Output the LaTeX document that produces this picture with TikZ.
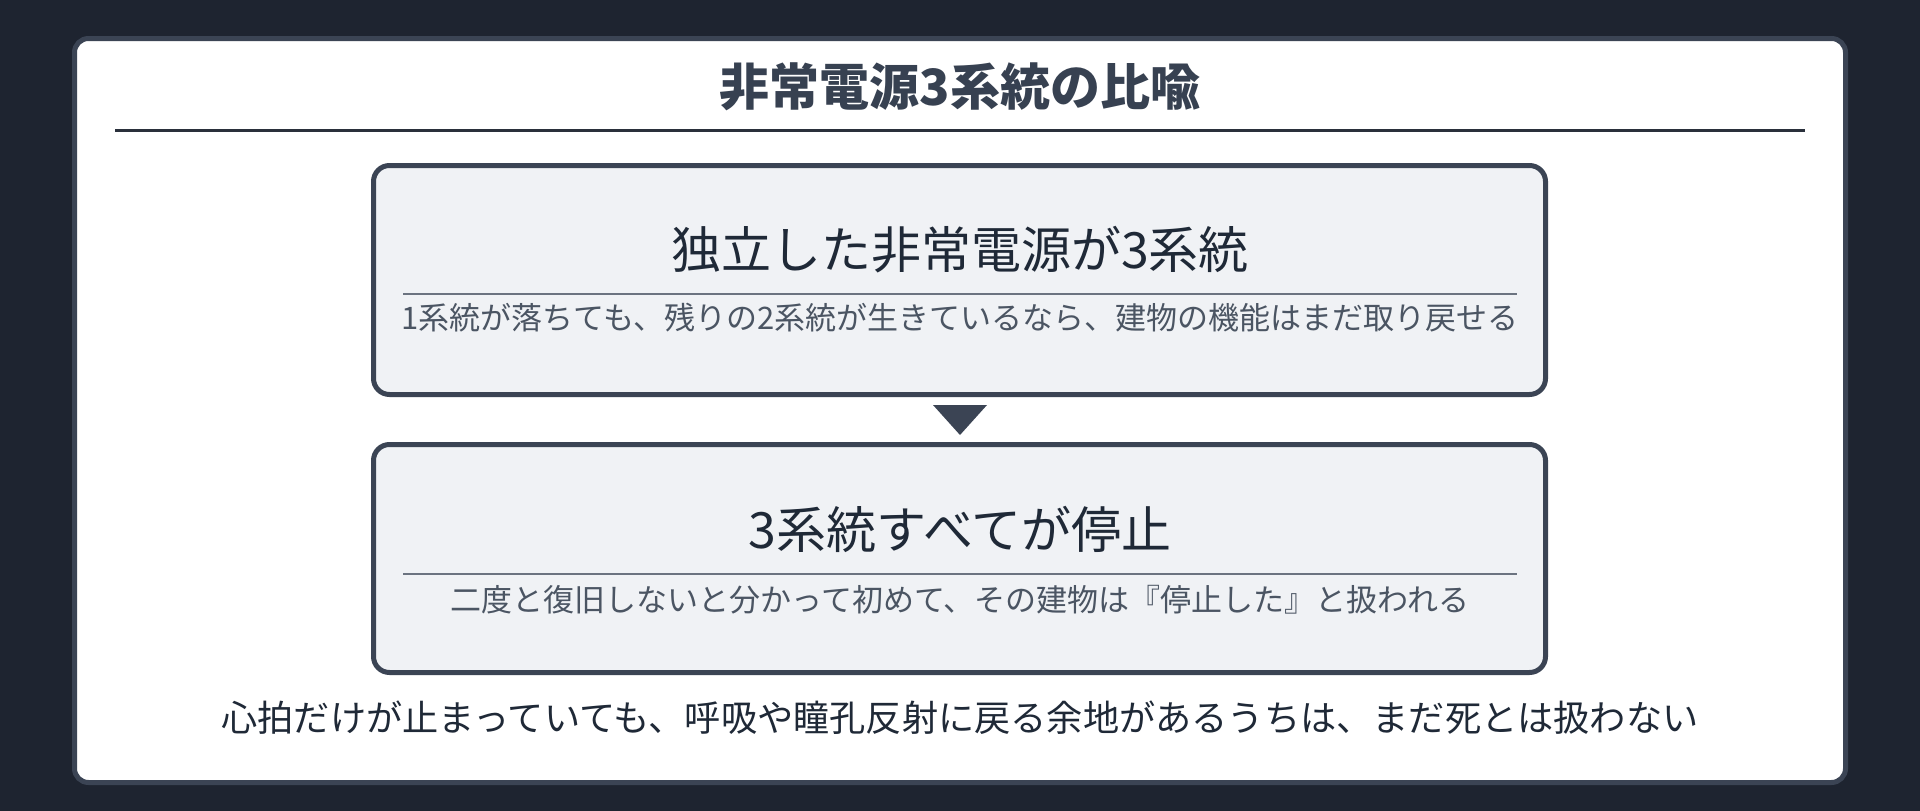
\documentclass[tikz,border=0pt]{standalone}
\usepackage{fontspec}
\setmainfont{Noto Sans CJK JP}
\definecolor{bgdark}{HTML}{1E2430}
\definecolor{frame}{HTML}{3B4454}
\definecolor{titletxt}{HTML}{374151}
\definecolor{headtxt}{HTML}{1F2937}
\definecolor{subtxt}{HTML}{4B5563}
\definecolor{boxfill}{HTML}{F0F2F5}
\definecolor{rulegray}{HTML}{6B7380}
\definecolor{titlerule}{HTML}{2A303B}
\tikzset{
  panelbox/.style={draw=frame, line width=5pt, fill=white, rounded corners=14pt},
  stagebox/.style={draw=frame, line width=5pt, fill=boxfill, rounded corners=16pt,
    minimum width=1172pt, minimum height=229pt, inner sep=0pt},
  titletext/.style={anchor=base, inner sep=0pt, text=titletxt, font=\bfseries\fontsize{50}{60}\selectfont},
  headtext/.style={anchor=base, inner sep=0pt, text=headtxt, font=\fontsize{50}{60}\selectfont},
  subtext/.style={anchor=base, inner sep=0pt, text=subtxt, font=\fontsize{31}{38}\selectfont},
  foottext/.style={anchor=base, inner sep=0pt, text=headtxt, font=\fontsize{36.2}{43}\selectfont},
  subrule/.style={draw=rulegray, line width=2.5pt},
  markertri/.style={fill=frame},
}
\begin{document}
\begin{tikzpicture}[x=1pt, y=-1pt]
\useasboundingbox (0,0) rectangle (1920,811);
\fill[bgdark] (0,0) rectangle (1920,811);
\draw[panelbox] (74.5,38.5) rectangle (1845.5,782.5);
% title
\node[titletext] (title) at (960,105.5) {非常電源3系統の比喩};
\coordinate (trl) at (115,130);
\coordinate (trr) at (1805,130);
\draw[titlerule, line width=3pt] (trl) -- (trr);
% box 1
\node[stagebox] (box1) at (959.5,280) {};
\node[headtext] (h1) at (960,268.5) {独立した非常電源が3系統};
\coordinate (r1l) at (403,294);
\coordinate (r1r) at (1517,294);
\draw[subrule] (r1l) -- (r1r);
\node[subtext] (s1) at (960,329) {1系統が落ちても、残りの2系統が生きているなら、建物の機能はまだ取り戻せる};
% marker
\coordinate (tri) at (960,405);
\fill[markertri] (tri) ++(-27,0) -- ++(54,0) -- ++(-27,30) -- cycle;
% box 2
\node[stagebox, minimum height=228pt] (box2) at (959.5,558.5) {};
\node[headtext] (h2) at (960,548.5) {3系統すべてが停止};
\coordinate (r2l) at (403,574);
\coordinate (r2r) at (1517,574);
\draw[subrule] (r2l) -- (r2r);
\node[subtext] (s2) at (960,611) {二度と復旧しないと分かって初めて、その建物は『停止した』と扱われる};
% footer
\node[foottext] (foot) at (960,731) {心拍だけが止まっていても、呼吸や瞳孔反射に戻る余地があるうちは、まだ死とは扱わない};
\end{tikzpicture}
\end{document}
